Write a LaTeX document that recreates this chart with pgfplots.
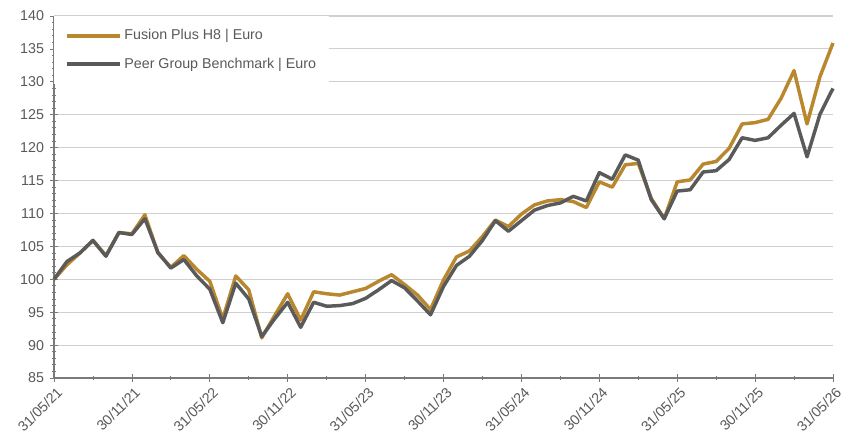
\documentclass[border=0pt]{standalone}
\usepackage{pgfplots}
\pgfplotsset{compat=1.18}
\usepackage{pgfplotstable}
\usepackage{fontspec}
\setmainfont{Liberation Sans}
\definecolor{gold}{HTML}{B8872E}
\definecolor{peer}{HTML}{5A5A5A}
\definecolor{gridc}{HTML}{D0D0D0}
\definecolor{axc}{HTML}{7A7A7A}
\definecolor{labc}{HTML}{595959}

\pgfplotstableread{
m g p
0 100.0 100.0
1 102.2 102.7
2 104.0 104.0
3 105.9 105.9
4 103.6 103.5
5 107.1 107.1
6 106.9 106.8
7 109.8 109.2
8 104.0 104.1
9 101.8 101.7
10 103.6 103.0
11 101.5 100.5
12 99.7 98.5
13 94.0 93.4
14 100.5 99.4
15 98.4 97.0
16 91.1 91.3
17 94.5 94.0
18 97.8 96.5
19 93.8 92.7
20 98.1 96.5
21 97.8 95.9
22 97.6 96.0
23 98.1 96.3
24 98.6 97.1
25 99.7 98.4
26 100.7 99.8
27 99.2 98.7
28 97.6 96.7
29 95.4 94.6
30 99.9 98.9
31 103.4 102.1
32 104.3 103.5
33 106.5 105.9
34 109.0 108.9
35 108.0 107.3
36 109.9 108.9
37 111.3 110.5
38 111.9 111.2
39 112.1 111.6
40 111.8 112.6
41 110.9 111.9
42 114.8 116.2
43 114.0 115.2
44 117.4 118.9
45 117.6 118.1
46 112.3 112.1
47 109.2 109.2
48 114.8 113.4
49 115.1 113.6
50 117.5 116.3
51 117.9 116.5
52 119.9 118.2
53 123.6 121.5
54 123.8 121.1
55 124.3 121.5
56 127.5 123.4
57 131.7 125.2
58 123.6 118.6
59 130.8 125.1
60 135.9 129.0
}\data

\begin{document}
\begin{tikzpicture}
\useasboundingbox (-40.5pt,-47.25pt) rectangle (595.5pt,283.5pt);
\begin{axis}[
  at={(0,0)}, anchor=south west,
  scale only axis,
  width=584.25pt, height=271.5pt,
  xmin=0, xmax=60, ymin=85, ymax=140,
  axis lines*=left,
  axis line style={axc, line width=0.8pt},
  xtick={0,6,...,60},
  xticklabels={31/05/21,30/11/21,31/05/22,30/11/22,31/05/23,30/11/23,31/05/24,30/11/24,31/05/25,30/11/25,31/05/26},
  minor x tick num=1,
  ytick={85,90,...,140},
  minor y tick num=4,
  tick align=center,
  major tick length=6pt,
  minor tick length=3pt,
  tick style={axc, line width=0.6pt},
  ymajorgrids,
  grid style={gridc, line width=0.8pt},
  /pgf/number format/assume math mode=true,
  ticklabel style={font=\fontsize{10.7}{12}\selectfont, text=labc},
  x tick label style={rotate=45, anchor=north east, inner sep=1pt, yshift=-2pt},
  y tick label style={xshift=-1pt},
  legend style={at={(0,1)}, anchor=north west, draw=none, fill=white,
    font=\fontsize{10.7}{12}\selectfont, text=labc,
    row sep=8pt, inner xsep=8pt, inner ysep=8pt},
  legend cell align=left,
  legend image code/.code={\draw[#1, line width=2.6pt] (0pt,0pt) -- (40pt,0pt);},
  clip=false,
]
\addplot[gold, line width=2.6pt, line join=round] table[x=m, y=g] {\data};
\addlegendentry{Fusion Plus H8 \textbar{} Euro}
\addplot[peer, line width=2.6pt, line join=round] table[x=m, y=p] {\data};
\addlegendentry{Peer Group Benchmark \textbar{} Euro}
\end{axis}
\end{tikzpicture}
\end{document}
